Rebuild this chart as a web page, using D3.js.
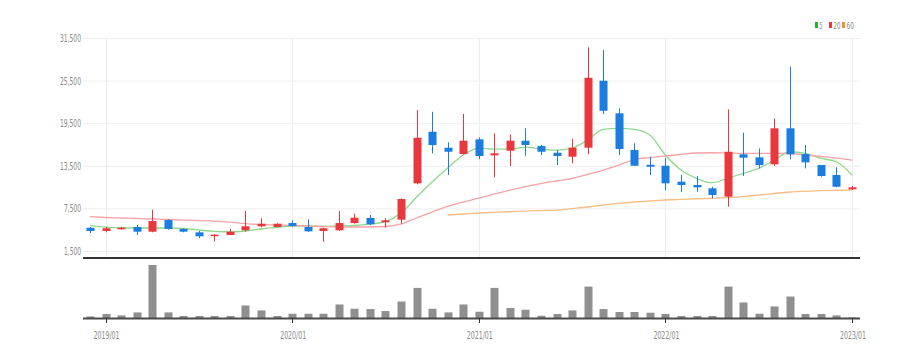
<!DOCTYPE html>
<html><head><meta charset="utf-8">
<script src="https://cdn.jsdelivr.net/npm/d3@7"></script>
<style>body{margin:0;background:#fff;} svg{display:block}</style>
</head><body><svg id="c" width="919" height="358"></svg>
<script>
const months=["2018/12","2019/01","2019/02","2019/03","2019/04","2019/05","2019/06","2019/07","2019/08","2019/09","2019/10","2019/11","2019/12",
"2020/01","2020/02","2020/03","2020/04","2020/05","2020/06","2020/07","2020/08","2020/09","2020/10","2020/11","2020/12",
"2021/01","2021/02","2021/03","2021/04","2021/05","2021/06","2021/07","2021/08","2021/09","2021/10","2021/11","2021/12",
"2022/01","2022/02","2022/03","2022/04","2022/05","2022/06","2022/07","2022/08","2022/09","2022/10","2022/11","2022/12","2023/01"];
const open =[4780,4320,4560,4880,4220,5870,4600,4130,3610,3750,4420,4980,4880,5440,4880,4320,4420,5440,6150,5540,5910,11030,18300,16050,15160,17230,14970,15620,17030,16280,15340,14780,16050,25480,20890,15720,13650,13510,11260,10790,10330,9150,15120,14690,13710,18780,15160,13610,12200,10190];
const high =[4880,4880,4920,5160,7320,5960,4700,4320,3850,4600,7130,6100,5400,5820,5960,4780,7130,6750,6570,6100,8920,21350,21110,16810,20790,17510,18070,17930,18780,16430,15720,17310,30180,29800,21590,16660,14780,14640,12200,12060,10550,21450,18160,15960,20180,27450,16430,13610,13290,10690];
const low  =[4030,4130,4500,3750,4130,4500,4130,3290,2810,3750,4220,4840,4840,4920,4170,2810,4320,5340,5160,4780,5340,10890,15260,12200,15060,14450,11880,13470,14920,15020,13610,13850,15140,20790,15020,13510,12200,10090,9850,9850,8920,7740,12060,13140,13470,14410,13140,11960,10470,10090];
const close=[4320,4700,4780,4220,5720,4600,4220,3570,3800,4220,4980,5340,5340,5020,4270,4700,5440,6190,5260,5820,8820,17450,16430,15480,17030,14880,15260,17030,16430,15480,14880,16050,25900,21250,15860,13510,13370,11030,10790,10470,9390,15480,14640,13610,18780,15120,13990,12060,10550,10470];
const ma5  =[5090,4880,4740,4740,4740,4740,4670,4460,4250,4180,4320,4600,4810,5020,5020,4950,5020,5090,5300,5650,6850,9100,11220,13190,15020,16000,15860,15860,16140,15860,15720,16000,17130,18640,18780,18640,17830,15020,12900,11740,11120,11740,12440,13140,14310,15480,15260,14550,14070,12200];
const ma20 =[6330,6220,6150,6080,6010,5940,5860,5790,5720,5580,5370,5230,5160,5090,5020,4950,4880,4880,4880,4950,5300,6150,6990,7770,8400,8960,9530,10090,10580,11000,11360,11710,12280,12900,13610,14380,14660,14880,15090,15300,15340,15300,15260,15260,15260,15230,15020,14810,14590,14310];
const ma60 =[null,null,null,null,null,null,null,null,null,null,null,null,null,null,null,null,null,null,null,null,null,null,null,6570,6710,6850,6950,7030,7130,7200,7270,7480,7700,7980,8220,8400,8540,8680,8780,8860,8930,9030,9170,9380,9600,9810,9910,9990,10050,10090];
const volume=[3,7.5,5,10.5,100,10.5,3.8,3.8,3.8,3.8,23.6,14.3,3.8,8,8,8,25.5,17.4,16.9,13.1,31.1,56.8,17.4,10.5,25.5,11.8,56.8,18.8,15.6,4.3,7.5,14.3,59.3,16.9,11.3,11.3,9.9,7.5,3.8,3.8,3.8,59.3,29.3,8,21.8,40.5,7.5,7.5,4.9,1];
const yTicks=[1500,7500,13500,19500,25500,31500];
const xTicks=["2019/01","2020/01","2021/01","2022/01","2023/01"];
const legendLabels=["5","20","60"];

const UP="#e8383d", DOWN="#1b7de0";
const maColors=["#8ed88e","#f5a3a6","#f7bd85"];
const svg=d3.select("#c");
const L=83, R=860;
const x=d3.scaleBand().domain(months).range([82.2,859.8]).paddingInner(0.48).paddingOuter(0.24);
const cx=m=>x(m)+x.bandwidth()/2;
const y=d3.scaleLinear().domain([1500,31500]).range([251,38]);
const vy=d3.scaleLinear().domain([0,100]).range([318,265]);

// grid
svg.append("g").selectAll("line").data(yTicks).join("line")
 .attr("x1",L).attr("x2",R).attr("y1",d=>y(d)+0.5).attr("y2",d=>y(d)+0.5)
 .attr("stroke","#ededed").attr("stroke-width",1);
svg.append("g").selectAll("line").data(xTicks).join("line")
 .attr("x1",d=>Math.round(cx(d))+0.5).attr("x2",d=>Math.round(cx(d))+0.5).attr("y1",38).attr("y2",257)
 .attr("stroke","#ededed").attr("stroke-width",1);

// y labels
svg.append("g").selectAll("text").data(yTicks).join("text")
 .attr("x",81).attr("y",d=>y(d)+4).attr("text-anchor","end")
 .attr("font-family","Liberation Sans Narrow, DejaVu Sans Condensed, Liberation Sans, sans-serif")
 .attr("font-size",11).attr("fill","#8a8a8a")
 .attr("textLength",d=>d3.format(",")(d).length>5?21:17).attr("lengthAdjust","spacingAndGlyphs")
 .text(d=>d3.format(",")(d));

// MA lines
const maSeries=[ma5,ma20,ma60];
maSeries.forEach((s,k)=>{
 const line=d3.line().defined(d=>d[1]!=null).x(d=>cx(d[0])).y(d=>y(d[1])).curve(d3.curveMonotoneX);
 svg.append("path").datum(months.map((m,i)=>[m,s[i]])).attr("d",line)
  .attr("fill","none").attr("stroke",maColors[k]).attr("stroke-width",1.3);
});

// candles
const data=months.map((m,i)=>({m,o:open[i],h:high[i],l:low[i],c:close[i],v:volume[i]}));
const cg=svg.append("g");
cg.selectAll("line").data(data).join("line")
 .attr("x1",d=>Math.round(cx(d.m))+0.5).attr("x2",d=>Math.round(cx(d.m))+0.5)
 .attr("y1",d=>y(d.h)).attr("y2",d=>y(d.l))
 .attr("stroke",d=>d.c>=d.o?UP:DOWN).attr("stroke-width",1);
cg.selectAll("rect").data(data).join("rect")
 .attr("x",d=>Math.round(cx(d.m))-3.5).attr("width",8)
 .attr("y",d=>y(Math.max(d.o,d.c))).attr("height",d=>Math.max(1.5,Math.abs(y(d.o)-y(d.c))))
 .attr("fill",d=>d.c>=d.o?UP:DOWN);

// separator
svg.append("line").attr("x1",L).attr("x2",R).attr("y1",258).attr("y2",258).attr("stroke","#333").attr("stroke-width",2);

// volume
svg.append("g").selectAll("rect").data(data).join("rect")
 .attr("x",d=>Math.round(cx(d.m))-3.5).attr("width",8)
 .attr("y",d=>vy(d.v)).attr("height",d=>vy(0)-vy(d.v))
 .attr("fill","#8f8f8f");
svg.append("line").attr("x1",L).attr("x2",R).attr("y1",318.5).attr("y2",318.5).attr("stroke","#4a4a4a").attr("stroke-width",2);
svg.append("g").selectAll("line").data(xTicks).join("line")
 .attr("x1",d=>Math.round(cx(d))+0.5).attr("x2",d=>Math.round(cx(d))+0.5).attr("y1",318).attr("y2",323)
 .attr("stroke","#333").attr("stroke-width",1);
svg.append("g").selectAll("text").data(xTicks).join("text")
 .attr("x",d=>cx(d)+1).attr("y",339).attr("text-anchor","middle")
 .attr("font-family","Liberation Sans Narrow, DejaVu Sans Condensed, Liberation Sans, sans-serif")
 .attr("font-size",11).attr("fill","#8a8a8a")
 .attr("textLength",26).attr("lengthAdjust","spacingAndGlyphs")
 .text(d=>d);

// legend
const lx=[815,829,842], tl=[3,7,7.5];
const lg=svg.append("g");
legendLabels.forEach((t,k)=>{
 lg.append("rect").attr("x",lx[k]).attr("y",22).attr("width",3).attr("height",6).attr("fill",["#22b422","#f0343c","#f0922a"][k]);
 lg.append("text").attr("x",lx[k]+4.5).attr("y",28.5).attr("font-size",9)
  .attr("font-family","Liberation Sans Narrow, DejaVu Sans Condensed, Liberation Sans, sans-serif")
  .attr("fill","#8a8a8a").attr("textLength",tl[k]).attr("lengthAdjust","spacingAndGlyphs").text(t);
});
</script></body></html>
